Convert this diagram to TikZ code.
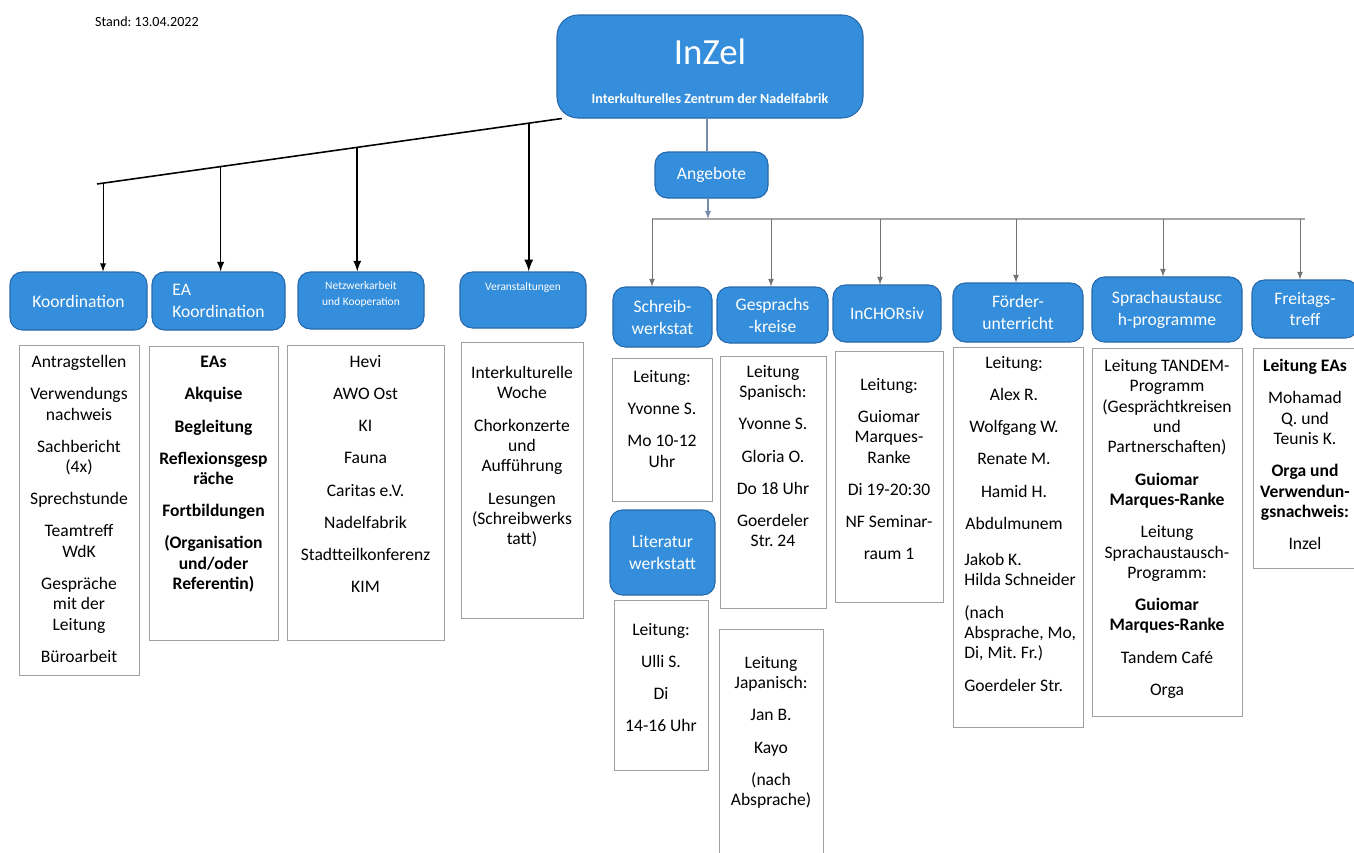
\documentclass[tikz,border=0pt]{standalone}
\usepackage{fontspec}
\setmainfont{Carlito}
\usetikzlibrary{arrows}
\usetikzlibrary{positioning}
\usetikzlibrary{calc}

\definecolor{kasten}{RGB}{52,142,219}
\definecolor{kastenrand}{RGB}{38,104,172}
\definecolor{graublau}{RGB}{120,140,170}

\frenchspacing
\newcommand{\ig}{\\[6.7pt]}

\tikzset{
	sz/.style 2 args={minimum width=#1*0.02cm, minimum height=#2*0.02cm},
	head/.style={draw=kastenrand, fill=kasten, rounded corners=7pt, text=white, align=center,
		inner sep=0pt, line width=0.6pt, font=\fontsize{10}{12.5}\selectfont},
	liste/.style={draw=gray!75, line width=0.5pt, inner sep=0pt},
	items/.style={anchor=north, align=center, inner sep=0pt, font=\fontsize{10}{11.6}\selectfont},
	ast/.style={->, >=latex, line width=#1},
	drop/.style={->, >=latex, draw=black!55, line width=0.5pt}
}

\begin{document}
\begin{tikzpicture}[x=0.02cm, y=-0.02cm]
\useasboundingbox (0,0) rectangle (1354,852);

% Kopf
\node[font=\fontsize{8}{9}\selectfont] (stand) at (147,22) {Stand: 13.04.2022};
\node[head, sz={306}{103}, rounded corners=12pt] (inzel) at (710,66.5) {};
\node[text=white, font=\fontsize{21}{21}\selectfont] (inzelT) at (710,52) {InZel};
\node[text=white, font=\bfseries\fontsize{8}{9}\selectfont] (inzelU) at (710,99) {Interkulturelles Zentrum der Nadelfabrik};
\node[head, sz={113}{46}] (angebote) at (711.5,175) {Angebote};

% linke Seite
\node[head, sz={137}{58}] (koordH) at (78.5,301) {Koordination};
\node[head, sz={133}{58}, align=left] (eaH) at (218.5,301) {EA\\Koordination};
\node[head, sz={126}{57}] (netzH) at (361,300.5) {};
\node[text=white, items, font=\fontsize{6.5}{9}\selectfont] (netzHT) at (361,281) {Netzwerkarbeit\\und Kooperation};
\node[head, sz={126}{56}] (veranH) at (523,300) {};
\node[text=white, items, font=\fontsize{6.5}{9}\selectfont] (veranHT) at (523,282) {Veranstaltungen};

\node[liste, sz={120}{330}] (koordL) at (79,510) {};
\node[items] (koordT) at (79,355) {Antragstellen\ig Verwendungs\\nachweis\ig Sachbericht\\(4x)\ig Sprechstunde\ig
	Teamtreff\\WdK\ig Gespräche\\mit der\\Leitung\ig Büroarbeit};
\node[liste, sz={129}{294}] (eaL) at (213.5,493) {};
\node[items, font=\bfseries\fontsize{10}{11.6}\selectfont] (eaT) at (213.5,356) {EAs\ig Akquise\ig Begleitung\ig
	Reflexionsgesp\\räche\ig Fortbildungen\ig (Organisation\\und/oder\\Referentin)};
\node[liste, sz={157}{295}] (netzL) at (365.5,492.5) {};
\node[items] (netzT) at (365.5,355) {Hevi\ig AWO Ost\ig KI\ig Fauna\ig Caritas e.V.\ig Nadelfabrik\ig
	Stadtteilkonferenz\ig KIM};
\node[liste, sz={122}{276}] (veranL) at (522,480) {};
\node[items] (veranT) at (522,366) {Interkulturelle\\Woche\ig Chorkonzerte\\und\\Aufführung\ig
	Lesungen\\(Schreibwerks\\tatt)};

% Angebote
\node[head, sz={99}{60}] (schreibH) at (662.5,317) {Schreib-\\werkstat};
\node[head, sz={111}{56}] (gesprH) at (772.5,315) {Gesprachs\\-kreise};
\node[head, sz={108}{57}] (chorH) at (887,313.5) {InCHORsiv};
\node[head, sz={130}{59}] (foerdH) at (1018,312.5) {Förder-\\unterricht};
\node[head, sz={150}{65}] (sprachH) at (1167,309.5) {Sprachaustausc\\h-programme};
\node[head, sz={106}{58}] (freitagH) at (1305,309) {Freitags-\\treff};
\node[head, sz={105}{85}] (litH) at (662.5,552.5) {Literatur\\werkstatt};

\node[liste, sz={100}{143}] (schreibL) at (662,429.5) {};
\node[items] (schreibT) at (662,370) {Leitung:\ig Yvonne S.\ig Mo 10-12\\Uhr};
\node[liste, sz={94}{170}] (litL) at (661,685) {};
\node[items] (litT) at (661,623) {Leitung:\ig Ulli S.\ig Di\ig 14-16 Uhr};
\node[liste, sz={106}{252}] (gesprL) at (773,482) {};
\node[items] (gesprT) at (773,365) {Leitung\\Spanisch:\ig Yvonne S.\ig Gloria O.\ig Do 18 Uhr\ig Goerdeler\\Str. 24};
\node[liste, sz={104}{232}] (japL) at (771,745) {};
\node[items] (japT) at (771,656) {Leitung\\Japanisch:\ig Jan B.\ig Kayo\ig (nach\\Absprache)};
\node[liste, sz={108}{251}] (chorL) at (889,476.5) {};
\node[items] (chorT) at (889,378) {Leitung:\ig Guiomar\\Marques-\\Ranke\ig Di 19-20:30\ig NF Seminar-\ig raum 1};
\node[liste, sz={130}{380}] (foerdL) at (1018,537) {};
\node[items] (foerdT) at (1014,356) {Leitung:\ig Alex R.\ig Wolfgang W.\ig Renate M.\ig Hamid H.\ig Abdulmunem};
\node[items, anchor=north west, align=left] (foerdT2) at (964,553) {Jakob K.\\Hilda Schneider\ig (nach\\Absprache, Mo,\\
	Di, Mit. Fr.)\ig Goerdeler Str.};
\node[liste, sz={150}{368}] (sprachL) at (1167,532) {};
\node[items] (sprachT) at (1167,359) {Leitung TANDEM-\\Programm\\(Gesprächtkreisen\\und\\Partnerschaften)\ig
	\textbf{Guiomar}\\\textbf{Marques-Ranke}\ig Leitung\\Sprachaustausch-\\Programm:\ig
	\textbf{Guiomar}\\\textbf{Marques-Ranke}\ig Tandem Café\ig Orga};
\node[liste, sz={104}{220}] (freitagL) at (1305,458) {};
\node[items] (freitagT) at (1305,359) {\textbf{Leitung EAs}\ig Mohamad\\Q. und\\Teunis K.\ig
	\textbf{Orga und}\\\textbf{Verwendun-}\\\textbf{gsnachweis:}\ig Inzel};

% Verbindungen links
\coordinate (lr) at ([xshift=3pt]inzel.south west);
\coordinate (ll) at (97,184);
\draw[line width=0.9pt] (ll) -- (lr);
\coordinate (k1) at ($(ll)!0.013!(lr)$);
\coordinate (k2) at ($(ll)!0.266!(lr)$);
\coordinate (k3) at ($(ll)!0.560!(lr)$);
\coordinate (k4) at ($(ll)!0.929!(lr)$);
\draw[ast=0.6pt] (k1) -- (k1 |- koordH.north);
\draw[ast=0.9pt] (k2) -- (k2 |- eaH.north);
\draw[ast=1.1pt] (k3) -- (k3 |- netzH.north);
\draw[ast=1.3pt] (k4) -- (k4 |- veranH.north);

% Verbindungen rechts
\coordinate (a0) at (707,0);
\coordinate (a1) at (708,0);
\coordinate (bl) at (652,219);
\coordinate (br) at (1305,219);
\coordinate (d2) at (771,219);
\coordinate (d3) at (880,219);
\coordinate (d4) at (1016,219);
\coordinate (d5) at (1163,219);
\coordinate (d6) at (1300,219);
\draw[graublau, line width=0.7pt] (inzel.south -| a0) -- (angebote.north -| a0);
\draw[->, >=latex, graublau, line width=0.6pt] (angebote.south -| a1) -- (bl -| a1);
\draw[gray!70, line width=0.7pt] (bl) -- (br);
\draw[drop] (bl) -- (bl |- schreibH.north);
\draw[drop] (d2) -- (d2 |- gesprH.north);
\draw[drop] (d3) -- (d3 |- chorH.north);
\draw[drop] (d4) -- (d4 |- foerdH.north);
\draw[drop] (d5) -- (d5 |- sprachH.north);
\draw[drop] (d6) -- (d6 |- freitagH.north);
\end{tikzpicture}
\end{document}
